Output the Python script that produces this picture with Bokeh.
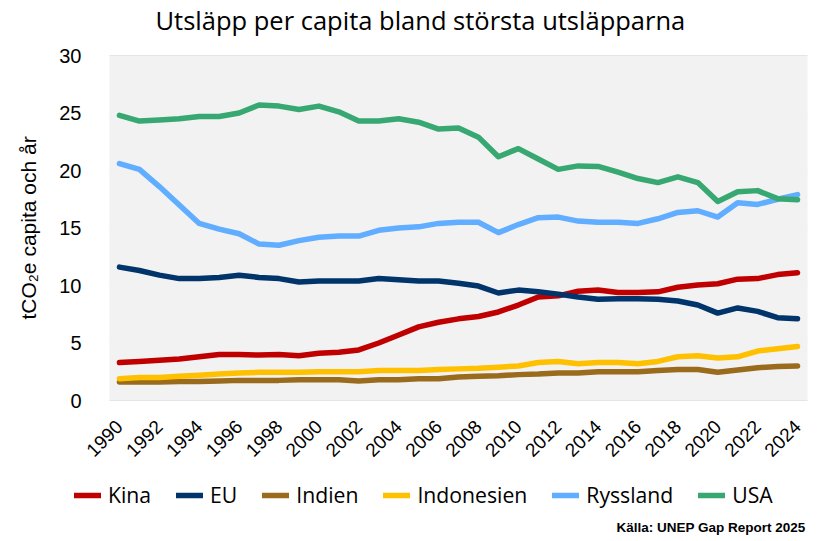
import math
from bokeh.plotting import figure
from bokeh.models import (Range1d, FixedTicker, Legend, LegendItem, Label,
                          LinearAxis, BoxAnnotation)
from bokeh.embed import file_html
from bokeh.resources import INLINE

years = [1990, 1991, 1992, 1993, 1994, 1995, 1996, 1997, 1998, 1999,
         2000, 2001, 2002, 2003, 2004, 2005, 2006, 2007, 2008, 2009,
         2010, 2011, 2012, 2013, 2014, 2015, 2016, 2017, 2018, 2019,
         2020, 2021, 2022, 2023, 2024]
tick_years = [1990, 1992, 1994, 1996, 1998, 2000, 2002, 2004, 2006, 2008,
              2010, 2012, 2014, 2016, 2018, 2020, 2022, 2024]
y_ticks = [0, 5, 10, 15, 20, 25, 30]

kina = [3.3, 3.4, 3.5, 3.6, 3.8, 4.0, 4.0, 3.95, 4.0, 3.9,
        4.1, 4.2, 4.4, 5.0, 5.7, 6.4, 6.8, 7.1, 7.3, 7.7,
        8.3, 9.0, 9.1, 9.5, 9.6, 9.4, 9.4, 9.45, 9.85, 10.05,
        10.15, 10.55, 10.6, 10.95, 11.1]
eu = [11.6, 11.3, 10.9, 10.6, 10.6, 10.7, 10.9, 10.7, 10.6, 10.3,
      10.4, 10.4, 10.4, 10.6, 10.5, 10.4, 10.4, 10.2, 9.95, 9.35,
      9.6, 9.45, 9.25, 9.0, 8.8, 8.85, 8.85, 8.8, 8.65, 8.3,
      7.6, 8.05, 7.75, 7.2, 7.1]
indien = [1.6, 1.6, 1.6, 1.65, 1.65, 1.7, 1.75, 1.75, 1.75, 1.8,
          1.8, 1.8, 1.7, 1.8, 1.8, 1.9, 1.9, 2.05, 2.1, 2.15,
          2.25, 2.3, 2.4, 2.4, 2.5, 2.5, 2.5, 2.6, 2.7, 2.7,
          2.45, 2.65, 2.85, 2.95, 3.0]
indonesien = [1.9, 2.0, 2.0, 2.1, 2.2, 2.3, 2.4, 2.45, 2.45, 2.45,
              2.5, 2.5, 2.5, 2.6, 2.6, 2.6, 2.7, 2.75, 2.8, 2.9,
              3.0, 3.3, 3.4, 3.2, 3.3, 3.3, 3.2, 3.4, 3.8, 3.9,
              3.7, 3.8, 4.3, 4.5, 4.7]
ryssland = [20.6, 20.1, 18.6, 17.0, 15.4, 14.9, 14.5, 13.6, 13.5, 13.9,
            14.2, 14.3, 14.3, 14.8, 15.0, 15.1, 15.4, 15.5, 15.5, 14.6,
            15.3, 15.9, 15.95, 15.6, 15.5, 15.5, 15.4, 15.8, 16.35, 16.5,
            15.95, 17.2, 17.05, 17.5, 17.9]
usa = [24.8, 24.3, 24.4, 24.5, 24.7, 24.7, 25.0, 25.7, 25.6, 25.3,
       25.6, 25.1, 24.3, 24.3, 24.5, 24.2, 23.6, 23.7, 22.9, 21.2,
       21.9, 21.0, 20.1, 20.4, 20.35, 19.85, 19.3, 18.95, 19.45, 18.95,
       17.3, 18.15, 18.25, 17.55, 17.45]

series = [
    ("Kina", kina, "#C00000"),
    ("EU", eu, "#00346B"),
    ("Indien", indien, "#9A6B1C"),
    ("Indonesien", indonesien, "#FFC000"),
    ("Ryssland", ryssland, "#61ADFF"),
    ("USA", usa, "#37A872"),
]

title_text = "Utsläpp per capita bland största utsläpparna"
source_text = "Källa: UNEP Gap Report 2025"
ylabel_text = "tCO₂e capita och år"

FONT = "Liberation Sans"
W, H = 817, 541
# plot-area placement on the canvas (pixels)
PL, PR, PT, PB = 109, 807, 55, 400
X0, X1 = 1989.5, 2024.5
Y0, Y1 = 0, 30

xs = (PR - PL) / (X1 - X0)
ys = (PB - PT) / (Y1 - Y0)
x_range = Range1d(X0 - PL / xs, X1 + (W - PR) / xs)
y_range = Range1d(Y0 - (H - PB) / ys, Y1 + PT / ys)

p = figure(width=W, height=H, output_backend="svg", toolbar_location=None,
           x_range=x_range, y_range=y_range,
           x_axis_location=None, y_axis_location=None,
           min_border=0, min_border_left=0, min_border_right=0,
           min_border_top=0, min_border_bottom=0,
           background_fill_color="white", border_fill_color="white",
           outline_line_color=None)
# no default grids: the gridlines are drawn only inside the plot area below
p.xgrid.visible = False
p.ygrid.visible = False

# plot area background
p.add_layout(BoxAnnotation(left=X0, right=X1, bottom=Y0, top=Y1,
                           fill_color="#F2F2F2", fill_alpha=1,
                           line_color=None, level="underlay"))

# horizontal gridlines at the y ticks, limited to the plot area
p.segment(x0=[X0] * len(y_ticks), x1=[X1] * len(y_ticks),
          y0=y_ticks, y1=y_ticks, line_color="#D9D9D9", line_width=1,
          level="underlay")

line_renderers = []
for name, vals, col in series:
    r = p.line(years, vals, line_color=col, line_width=5.5,
               line_cap="round", line_join="round")
    line_renderers.append((name, r))

xaxis = LinearAxis(ticker=FixedTicker(ticks=tick_years), fixed_location=Y0,
                   bounds=(X0, X1))
yaxis = LinearAxis(ticker=FixedTicker(ticks=y_ticks), fixed_location=X0,
                   bounds=(Y0, Y1))
for ax in (xaxis, yaxis):
    ax.axis_line_color = None
    ax.major_tick_line_color = None
    ax.minor_tick_line_color = None
    ax.major_label_text_font = FONT
    ax.major_label_text_color = "#000000"

xaxis.major_label_text_font_size = "19px"
yaxis.major_label_text_font_size = "20px"
xaxis.major_label_orientation = math.pi / 4
xaxis.major_label_standoff = 17
yaxis.major_label_standoff = 22
yaxis.axis_label = ylabel_text
yaxis.axis_label_text_font = FONT
yaxis.axis_label_text_font_size = "21px"
yaxis.axis_label_text_font_style = "normal"
yaxis.axis_label_text_color = "#000000"
yaxis.axis_label_standoff = 16
p.add_layout(xaxis, "below")
p.add_layout(yaxis, "left")

# legend
items = [LegendItem(label=name, renderers=[r]) for name, r in line_renderers]
legend = Legend(items=items, orientation="horizontal",
                location=(74, H - 509),
                glyph_width=27, glyph_height=22, label_standoff=7, spacing=25,
                label_text_font="Open Sans", label_text_font_size="21.2px",
                label_text_color="#000000", label_height=22,
                border_line_color=None, background_fill_alpha=0,
                padding=0, margin=0)
p.add_layout(legend, "center")

p.add_layout(Label(x=155, y=H - 19, x_units="screen", y_units="screen",
                   text=title_text, text_font="Open Sans",
                   text_font_size="25.5px", text_color="#000000",
                   text_align="left", text_baseline="alphabetic"))

p.add_layout(Label(x=805, y=H - 527, x_units="screen", y_units="screen",
                   text=source_text, text_font=FONT, text_font_size="13.5px",
                   text_font_style="bold", text_color="#000000",
                   text_align="right", text_baseline="middle"))

open("out.html", "w").write(file_html(p, INLINE))
